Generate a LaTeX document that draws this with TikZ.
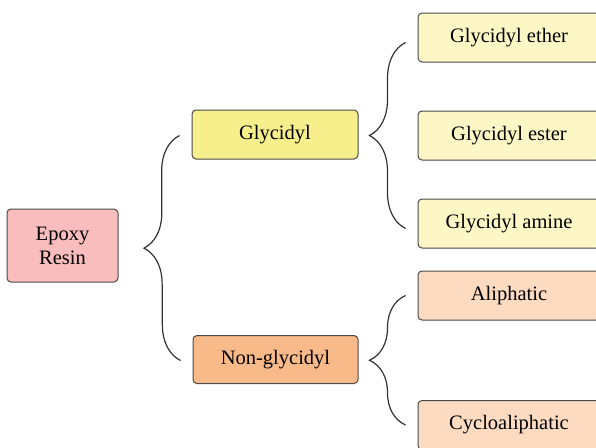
\documentclass[tikz,border=0pt]{standalone}
\usepackage{fontspec}
\setmainfont{Liberation Serif}
\usetikzlibrary{decorations.pathreplacing}
\definecolor{resinpink}{HTML}{F8BDBC}
\definecolor{glyyellow}{HTML}{F6EF8C}
\definecolor{nonorange}{HTML}{F9BA8A}
\definecolor{lightyellow}{HTML}{FDF7C6}
\definecolor{lightpeach}{HTML}{FCDBC0}
\definecolor{boxgray}{HTML}{4A4A4A}
\definecolor{bracegray}{HTML}{333333}

\begin{document}
\begin{tikzpicture}
[x=1pt,y=-1pt,every node/.style={draw=boxgray,line width=1pt,rounded corners=4pt,inner sep=0pt,align=center,font=\fontsize{20.5}{24}\selectfont},
brace/.style={draw=bracegray,line width=1.2pt,decorate,decoration={brace,amplitude=36pt}}]
\clip (0,0) rectangle (596,447);
\useasboundingbox (0,0) rectangle (596,447);
\node[fill=resinpink,minimum width=111pt,minimum height=73pt] (resin) at (62.5,245.5) {Epoxy\\Resin};
\node[fill=glyyellow,minimum width=166pt,minimum height=49pt] (gly) at (275,134.5) {Glycidyl};
\node[fill=nonorange,minimum width=165pt,minimum height=48pt] (non) at (275.5,359.5) {Non-glycidyl};
\node[fill=lightyellow,minimum width=182pt,minimum height=49pt] (ether) at (509,37.5) {Glycidyl ether};
\node[fill=lightyellow,minimum width=182pt,minimum height=49pt] (ester) at (509,135.5) {Glycidyl ester};
\node[fill=lightyellow,minimum width=182pt,minimum height=49pt] (amine) at (509,223.5) {Glycidyl amine};
\node[fill=lightpeach,minimum width=182pt,minimum height=49pt] (aliph) at (509,295.5) {Aliphatic};
\node[fill=lightpeach,minimum width=182pt,minimum height=49pt] (cyclo) at (509,425) {Cycloaliphatic};
\foreach \from/\to/\dy in {non/gly/-1,amine/ether/-5,cyclo/aliph/0}
\draw[brace] ([xshift=-12pt,yshift=\dy pt]\from.west) -- ([xshift=-12pt,yshift=\dy pt]\to.west);
\end{tikzpicture}
\end{document}
